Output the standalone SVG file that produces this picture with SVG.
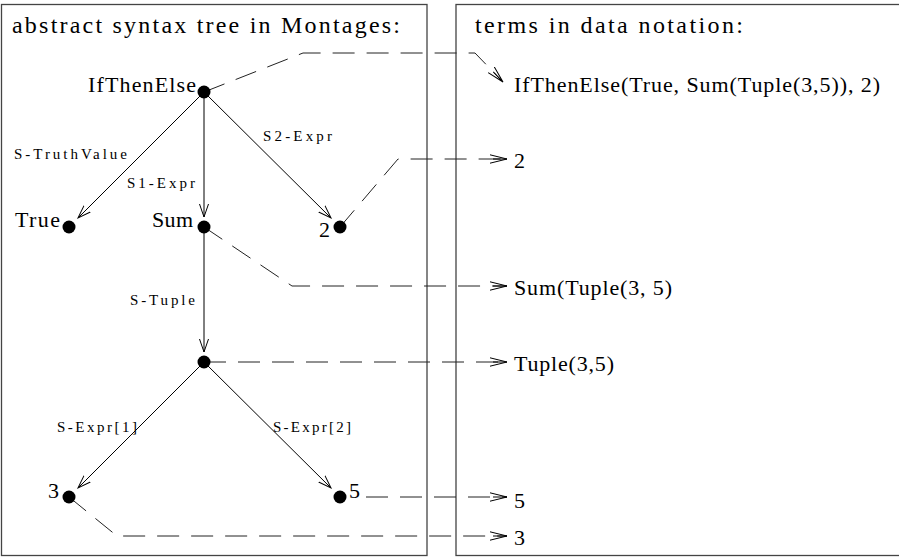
<svg xmlns="http://www.w3.org/2000/svg" width="899" height="557" viewBox="0 0 899 557">
<style>
text { font-family: "Liberation Serif", "DejaVu Serif", serif; fill: #000; }
.ti { font-size: 24px; }
.n { font-size: 22px; }
.e { font-size: 15px; }
.box { fill: none; stroke: #444; stroke-width: 1.3; }
.edge { fill: none; stroke: #000; stroke-width: 1; marker-end: url(#ah); }
.dash { fill: none; stroke: #222; stroke-width: 1; stroke-dasharray: 22 12; marker-end: url(#dh); }
.dot { fill: #000; }
</style>
<defs>
<marker id="ah" markerWidth="16" markerHeight="12" refX="13" refY="6" orient="auto" markerUnits="userSpaceOnUse">
<path d="M0,1.5 L13,6 L0,10.5" fill="none" stroke="#000" stroke-width="1" stroke-dasharray="none"/>
</marker>
<marker id="dh" markerWidth="20" markerHeight="12" refX="17" refY="6" orient="auto" markerUnits="userSpaceOnUse">
<path d="M0,1.8 L17,6 L0,10.2 M3,6 L17,6" fill="none" stroke="#000" stroke-width="1" stroke-dasharray="none"/>
</marker>
</defs>
<rect width="899" height="557" fill="#fff"/>
<g id="panels">
<rect class="box" x="1.5" y="4.5" width="425.5" height="551"/>
<rect class="box" x="456" y="4.5" width="460" height="551"/>
<text class="ti" x="12" y="33" textLength="388" lengthAdjust="spacing">abstract syntax tree in Montages:</text>
<text class="ti" x="475" y="33" textLength="268" lengthAdjust="spacing">terms in data notation:</text>
</g>
<g id="connectors">
<path class="edge" d="M204,92 L78,218"/>
<path class="edge" d="M204,92 L204,217"/>
<path class="edge" d="M204,92 L331,218"/>
<path class="edge" d="M204,227 L204,352"/>
<path class="edge" d="M204,362 L78,488"/>
<path class="edge" d="M204,362 L331,488"/>
<text class="e" x="14" y="159" textLength="113" lengthAdjust="spacing">S-TruthValue</text>
<text class="e" x="127" y="188" textLength="68" lengthAdjust="spacing">S1-Expr</text>
<text class="e" x="263" y="141" textLength="69" lengthAdjust="spacing">S2-Expr</text>
<text class="e" x="130" y="305" textLength="65" lengthAdjust="spacing">S-Tuple</text>
<text class="e" x="57" y="432" textLength="80" lengthAdjust="spacing">S-Expr[1]</text>
<text class="e" x="273" y="432" textLength="78" lengthAdjust="spacing">S-Expr[2]</text>
<path class="dash" d="M204,92 L303,53 L475,53 L503,82"/>
<path class="dash" d="M340,227 L398,159 L507,159"/>
<path class="dash" d="M204,227 L292,286 L507,286"/>
<path class="dash" d="M204,362 L507,362"/>
<path class="dash" d="M366,497 L507,497"/>
<path class="dash" d="M69,497 L117,536 L507,536"/>
</g>
<g id="node-ifthenelse">
<circle class="dot" cx="204" cy="92" r="6.5"/>
<text class="n" x="196" y="92" text-anchor="end" textLength="108" lengthAdjust="spacing">IfThenElse</text>
</g>
<g id="node-true">
<circle class="dot" cx="69" cy="227" r="6.5"/>
<text class="n" x="15" y="227" textLength="45" lengthAdjust="spacing">True</text>
</g>
<g id="node-sum">
<circle class="dot" cx="204" cy="227" r="6.5"/>
<text class="n" x="152" y="227" textLength="41" lengthAdjust="spacing">Sum</text>
</g>
<g id="node-2">
<circle class="dot" cx="340" cy="227" r="6.5"/>
<text class="n" x="319" y="237">2</text>
</g>
<g id="node-tuple">
<circle class="dot" cx="204" cy="362" r="6.5"/>
</g>
<g id="node-3">
<circle class="dot" cx="69" cy="497" r="6.5"/>
<text class="n" x="48" y="498">3</text>
</g>
<g id="node-5">
<circle class="dot" cx="340" cy="497" r="6.5"/>
<text class="n" x="349" y="498">5</text>
</g>
<g id="term-ifthenelse">
<text class="n" x="514" y="92" textLength="366" lengthAdjust="spacing">IfThenElse(True, Sum(Tuple(3,5)), 2)</text>
</g>
<g id="term-2">
<text class="n" x="514" y="168">2</text>
</g>
<g id="term-sum">
<text class="n" x="514" y="295" textLength="158" lengthAdjust="spacing">Sum(Tuple(3, 5)</text>
</g>
<g id="term-tuple">
<text class="n" x="514" y="371" textLength="100" lengthAdjust="spacing">Tuple(3,5)</text>
</g>
<g id="term-5">
<text class="n" x="514" y="508">5</text>
</g>
<g id="term-3">
<text class="n" x="514" y="545">3</text>
</g>
</svg>
